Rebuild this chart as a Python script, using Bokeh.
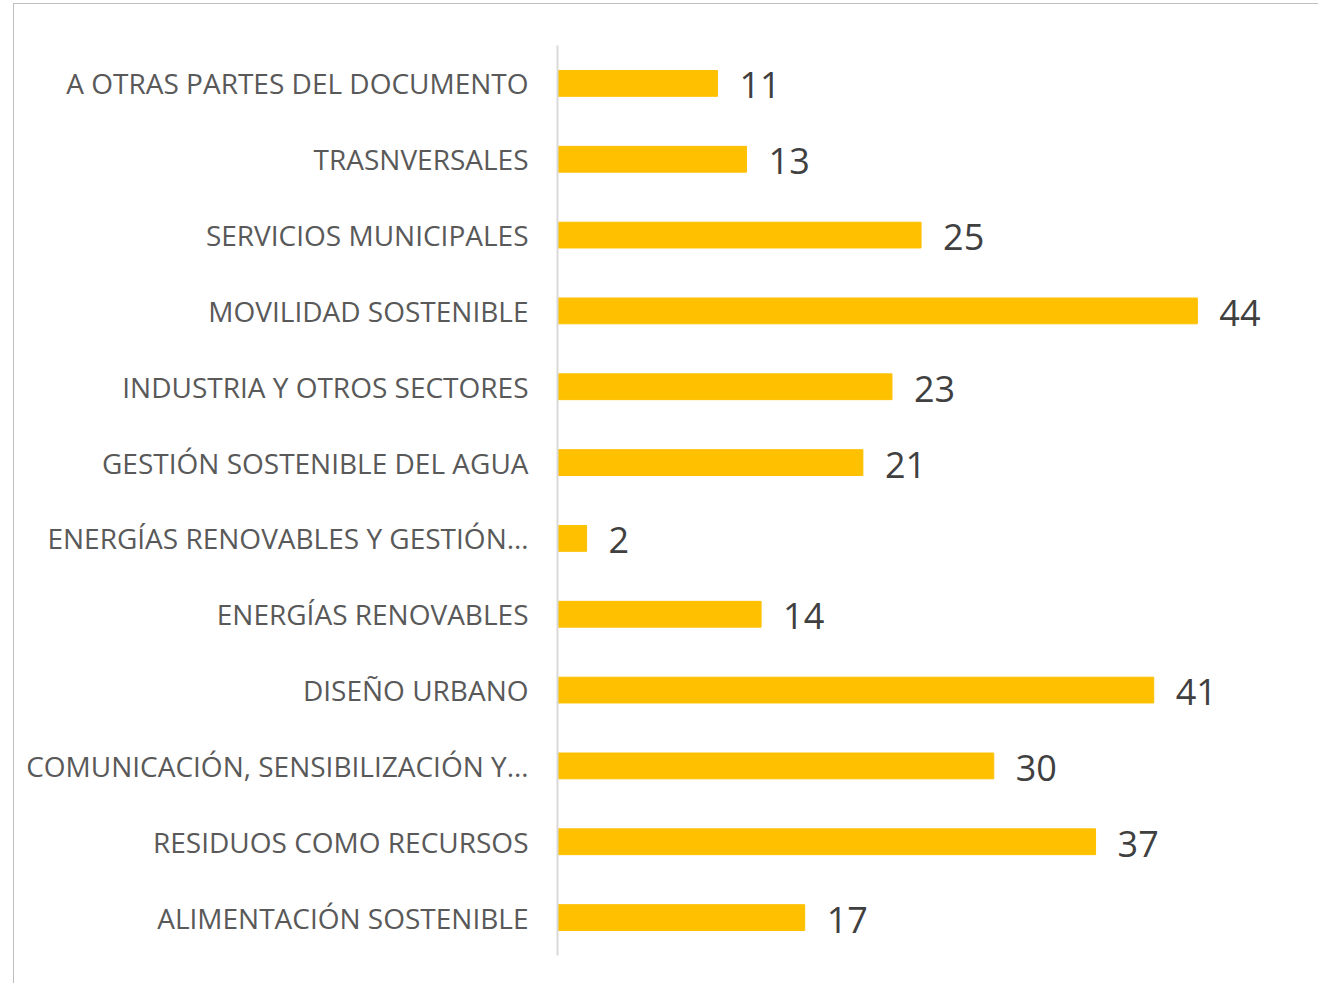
from bokeh.plotting import figure
from bokeh.models import ColumnDataSource, Range1d, FactorRange
from bokeh.core.properties import value
from bokeh.embed import file_html
from bokeh.resources import INLINE

categories = [
    "A OTRAS PARTES DEL DOCUMENTO",
    "TRASNVERSALES",
    "SERVICIOS MUNICIPALES",
    "MOVILIDAD SOSTENIBLE",
    "INDUSTRIA Y OTROS SECTORES",
    "GESTIÓN SOSTENIBLE DEL AGUA",
    "ENERGÍAS RENOVABLES Y GESTIÓN…",
    "ENERGÍAS RENOVABLES",
    "DISEÑO URBANO",
    "COMUNICACIÓN, SENSIBILIZACIÓN Y…",
    "RESIDUOS COMO RECURSOS",
    "ALIMENTACIÓN SOSTENIBLE",
]
counts = [11, 13, 25, 44, 23, 21, 2, 14, 41, 30, 37, 17]

src = ColumnDataSource(dict(cat=categories, val=counts, lab=[str(v) for v in counts]))

p = figure(
    width=1305, height=980,
    y_range=FactorRange(factors=list(reversed(categories)), range_padding=0),
    x_range=Range1d(0, 52.4),
    output_backend="svg", toolbar_location=None,
    min_border_left=543, min_border_right=0, min_border_top=41, min_border_bottom=29,
    styles={"border-left": "1px solid #bfbfbf", "border-top": "1px solid #bfbfbf",
            "margin-left": "13px", "margin-top": "3px"},
)
p.outline_line_color = None
p.background_fill_color = "white"
p.border_fill_color = "white"
p.xgrid.visible = False
p.ygrid.visible = False
p.xaxis.visible = False

p.hbar(y="cat", right="val", left=0, height=0.34, color="#FFC000", source=src)
p.text(x="val", y="cat", text="lab", source=src, x_offset=22, y_offset=2,
       text_baseline="middle", text_align="left",
       text_font=value("Open Sans"), text_font_size="36px", text_color="#404040")

ax = p.yaxis[0]
ax.axis_line_color = "#d9d9d9"
ax.axis_line_width = 2
ax.major_tick_line_color = None
ax.minor_tick_line_color = None
ax.major_tick_out = 0
ax.major_tick_in = 0
ax.major_label_standoff = 29
ax.major_label_text_font = "Open Sans"
ax.major_label_text_font_size = "28px"
ax.major_label_text_color = "#595959"

open("out.html", "w").write(file_html(p, INLINE))
